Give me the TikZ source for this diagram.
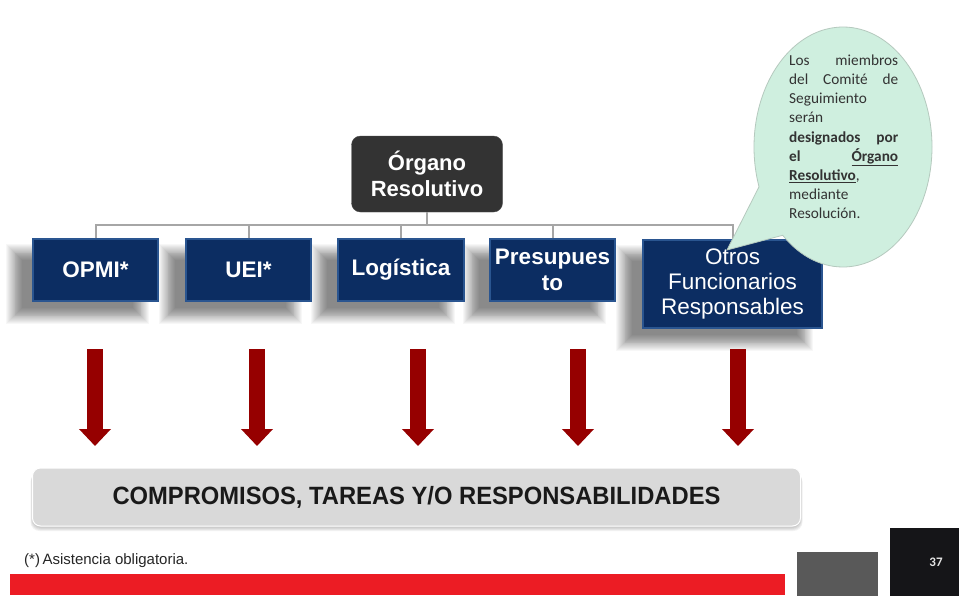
\documentclass[tikz,border=0pt]{standalone}
\usepackage{fontspec}
\setmainfont{Liberation Sans}
\newfontfamily\narrowfont[FakeStretch=0.95]{Liberation Sans}
\newfontfamily\bubblefont{Carlito}
\usetikzlibrary{shapes.geometric,shapes.callouts,arrows.meta,calc}
\pgfdeclarelayer{bgzero}
\pgfdeclarelayer{background}
\pgfsetlayers{bgzero,background,main}
\definecolor{navy}{HTML}{0C2D62}
\definecolor{navyedge}{HTML}{2A5590}
\definecolor{orgfill}{HTML}{333333}
\definecolor{connGray}{HTML}{A6A6A6}
\definecolor{mint}{HTML}{CFEFDF}
\definecolor{mintedge}{HTML}{B5C9BE}
\definecolor{arrowRed}{HTML}{960000}
\definecolor{barGray}{HTML}{D9D9D9}
\definecolor{footRed}{HTML}{EC1C24}
\definecolor{footGray}{HTML}{595959}
\definecolor{footBlack}{HTML}{151518}
\tikzset{
  unitbox/.style={draw=navyedge, line width=1.2pt, fill=navy, text=white, align=center,
    inner sep=2pt, minimum height=62pt},
  boldlab/.style={font=\bfseries\fontsize{22.5}{25}\selectfont},
  conn/.style={draw=connGray, line width=2pt},
  bigarrow/.style={draw=arrowRed, line width=16pt, -{Triangle[width=31pt,length=17pt]}},
  softshade/.style={fill=black, opacity=0.032},
}
\newcommand\boxshadow[3]{% node, xshift, yshift
  \foreach \k in {0,...,17}{
    \pgfmathsetmacro\dd{-8+0.9*\k}
    \fill[softshade] ($(#1.south west)+(#2+\dd,#3-\dd)$) rectangle ($(#1.north east)+(#2-\dd,#3+\dd)$);
  }}
\begin{document}
\begin{tikzpicture}[x=1pt,y=-1pt]
\useasboundingbox (0,0) rectangle (959,595);
\begin{pgfonlayer}{bgzero}
\fill[white] (0,0) rectangle (959,595);
\end{pgfonlayer}

% top node
\node[draw=gray!60!black, fill=orgfill, rounded corners=9pt, minimum width=151pt, minimum height=76pt,
  text=white, align=center, font=\bfseries\fontsize{22}{26}\selectfont] (org) at (427,174) {Órgano\\Resolutivo};

% unit boxes
\node[unitbox, boldlab, minimum width=125pt] (opmi) at (95.5,270) {OPMI*};
\node[unitbox, boldlab, minimum width=125pt] (uei) at (248.5,270) {UEI*};
\node[unitbox, boldlab, minimum width=126pt] (log) at (401,270) {Logística};
\node[unitbox, boldlab, minimum width=125pt] (pres) at (552.5,270) {\raisebox{2pt}{Presupues}\\[-1pt]to};
\node[unitbox, minimum width=179pt, minimum height=88pt, font=\fontsize{22.5}{25}\selectfont] (otros) at (732.5,284) {Otros\\Funcionarios\\Responsables};

\begin{pgfonlayer}{background}
\boxshadow{opmi}{-18}{14}
\boxshadow{uei}{-18}{14}
\boxshadow{log}{-18}{14}
\boxshadow{pres}{-18}{14}
\boxshadow{otros}{-18}{14}
\end{pgfonlayer}

% connectors
\coordinate (bus) at (0,225);
\draw[conn] (org.south) -- (org.south |- bus);
\draw[conn] (opmi.north) -- (opmi.north |- bus) -| (otros.north);
\draw[conn] (uei.north) -- (uei.north |- bus);
\draw[conn] (log.north) -- (log.north |- bus);
\draw[conn] (pres.north) -- (pres.north |- bus);

% speech bubble
\node[ellipse callout, draw=mintedge, line width=0.8pt, fill=mint, minimum width=178pt, minimum height=240pt,
  callout absolute pointer={(727,250)}, callout pointer arc=28] (bubble) at (843,147) {};
\node[anchor=north west, inner sep=0pt, text width=109pt, align=left,
  font=\bubblefont\fontsize{15.3}{19.2}\selectfont, text=black!80] (btxt) at (789,54.5)
  {Los\hfill miembros\\
   del\hfill Comité\hfill de\\
   Seguimiento\\
   serán\\
   \textbf{designados\hfill por}\\
   \textbf{el\hfill \underline{Órgano}}\\
   \textbf{\underline{Resolutivo}},\\
   mediante\\
   Resolución.};

% arrows
\foreach \i/\x in {1/95, 2/257, 3/418, 4/578, 5/738}{
  \coordinate (at\i) at (\x,349);
  \coordinate (ab\i) at (\x,446);
  \draw[bigarrow] (at\i) -- (ab\i);
}

% bottom bar
\begin{pgfonlayer}{background}
\foreach \k in {0,...,3}{
  \fill[black, opacity=0.05, rounded corners=9pt] (32-\k*0.5,470+\k) rectangle (801+\k*0.5,528+\k);
}
\end{pgfonlayer}
\node[fill=barGray, draw=white, line width=1pt, rounded corners=8pt, minimum width=768pt, minimum height=58pt,
  font=\narrowfont\bfseries\fontsize{25}{28}\selectfont, text=black!90] (comp) at (416.5,497)
  {COMPROMISOS, TAREAS Y/O RESPONSABILIDADES};

% footer
\node[anchor=west, inner sep=0pt, font=\fontsize{15}{17}\selectfont, text=black!85] (note) at (24,561)
  {(*)\,Asistencia obligatoria.};
\node[fill=footRed, minimum width=775pt, minimum height=21pt, inner sep=0pt, anchor=north west] (redbar) at (10,574) {};
\node[fill=footGray, minimum width=81pt, minimum height=44pt, inner sep=0pt, anchor=north west] (graysq) at (797,552) {};
\node[fill=footBlack, minimum width=70pt, minimum height=68pt, inner sep=0pt, anchor=north west] (blacksq) at (890,528) {};
\node[text=white!90!black, font=\bubblefont\bfseries\fontsize{13}{15}\selectfont] (pnum) at (936,562) {37};
\end{tikzpicture}
\end{document}
